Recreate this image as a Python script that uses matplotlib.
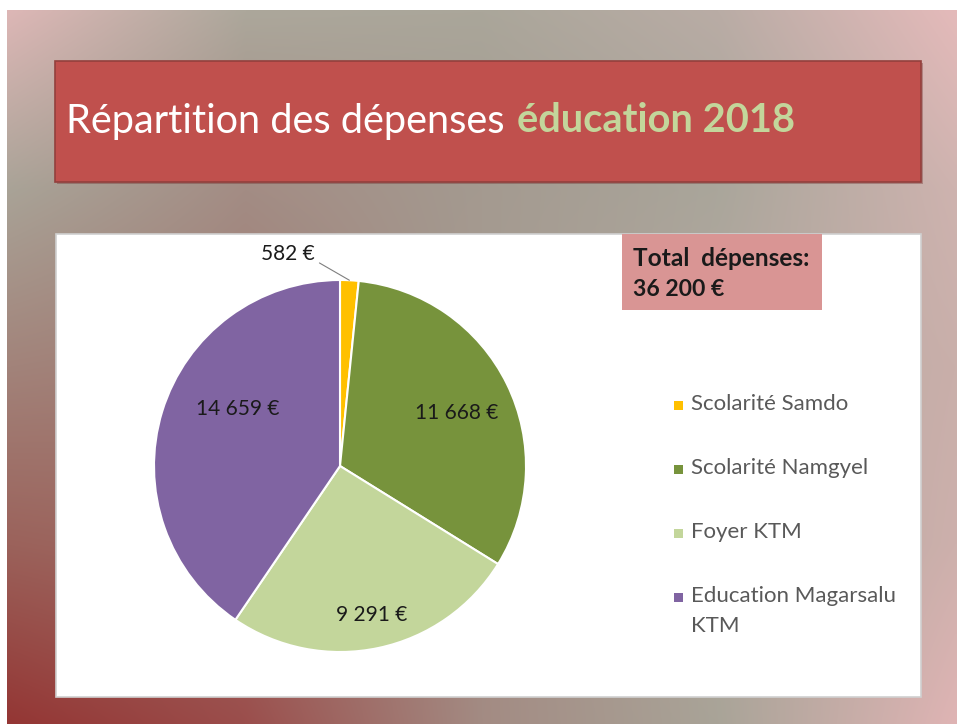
import matplotlib
matplotlib.use('Agg')
import matplotlib.pyplot as plt
import numpy as np
from matplotlib.patches import Rectangle
from matplotlib.colors import to_rgb

# ---- data ----
categories = ['Scolarité Samdo', 'Scolarité Namgyel', 'Foyer KTM', 'Education Magarsalu\nKTM']
values = [582, 11668, 9291, 14659]
value_labels = ['582 €', '11 668 €', '9 291 €', '14 659 €']
colors = ['#FFC000', '#77933C', '#C3D69B', '#8064A2']
title_part1 = 'Répartition des dépenses'
title_part2 = 'éducation 2018'
total_lines = ['Total  dépenses:', '36 200 €']

W, H = 957, 724
fig = plt.figure(figsize=(W / 100, H / 100), dpi=100)
fig.patch.set_facecolor('white')
bg = fig.add_axes([0, 0, 1, 1])
bg.axis('off')

# ---- background gradient (bilinear from a coarse colour grid) ----
grid = [
    ['#DDB7B6', '#ACA79B', '#AAA69A', '#B9ACA5', '#E4BABA'],
    ['#A9A397', '#A38C84', '#A49A90', '#AAA69B', '#CEB3AF'],
    ['#A2837A', '#A07C74', '#A59A90', '#B4A8A0', '#C9AFAA'],
    ['#9B625B', '#9D6A63', '#A28C84', '#AEA69C', '#CDB0AC'],
    ['#943634', '#9B4E4C', '#A38B83', '#A9A498', '#DFB4B4'],
]
g = np.array([[to_rgb(c) for c in row] for row in grid])
ny, nx = 240, 320
ys = np.linspace(0, 4, ny)
xs = np.linspace(0, 4, nx)
y0 = np.clip(np.floor(ys).astype(int), 0, 3); fy = (ys - y0)[:, None, None]
x0 = np.clip(np.floor(xs).astype(int), 0, 3); fx = (xs - x0)[None, :, None]
a = g[y0][:, x0]; b = g[y0][:, x0 + 1]; c = g[y0 + 1][:, x0]; d = g[y0 + 1][:, x0 + 1]
img = (a * (1 - fx) + b * fx) * (1 - fy) + (c * (1 - fx) + d * fx) * fy
bg.imshow(img, extent=(7, W, H, 10), interpolation='bilinear', aspect='auto', zorder=0)
bg.set_xlim(0, W); bg.set_ylim(H, 0)

# ---- title box ----
bg.add_patch(Rectangle((57, 63), 866, 121, fc='#6E2A28', ec='none', alpha=0.35, zorder=1))
bg.add_patch(Rectangle((55, 61), 866, 121, fc='#C0504D', ec='#93403D', lw=1.2, zorder=2))
fig.canvas.draw()
r = fig.canvas.get_renderer()

def fit_text(x, y, s, target_w, **kw):
    t = bg.text(x, y, s, **kw)
    w = t.get_window_extent(r).width
    t.set_fontsize(t.get_fontsize() * target_w / w)
    return t

fit_text(66, 121, title_part1, 439, fontsize=30, color='white', family='Lato',
         ha='left', va='center', zorder=3)
fit_text(517, 121, title_part2, 278, fontsize=30, color='#C3D69B', family='Lato',
         fontweight='bold', ha='left', va='center', zorder=3)

# ---- chart area ----
bg.add_patch(Rectangle((56, 234), 865, 463, fc='white', ec='#D0D0D0', lw=1.2, zorder=2))

# ---- total box ----
bg.add_patch(Rectangle((622, 234), 200, 76, fc='#D99594', ec='none', zorder=3))
fit_text(633, 258, total_lines[0], 177, fontsize=16, fontweight='bold', family='Lato',
         color='#1A1A1A', ha='left', va='center', zorder=4)
fit_text(633, 290, total_lines[1], 91, fontsize=16, fontweight='bold', family='Lato',
         color='#1A1A1A', ha='left', va='center', zorder=4)

# ---- legend ----
leg_y = [405, 469, 533, 597]
for cat, col, yy in zip(categories, colors, leg_y):
    bg.add_patch(Rectangle((674, yy - 4.5), 9, 9, fc=col, ec='none', zorder=4))
    bg.text(691, yy - 11, cat, fontsize=16, family='Lato', color='#595959',
            ha='left', va='top', linespacing=1.6, zorder=4)

# ---- pie ----
cx, cy, rad = 340, 466, 186
pax = fig.add_axes([(cx - rad) / W, (H - cy - rad) / H, 2 * rad / W, 2 * rad / H])
wedges, _ = pax.pie(values, colors=colors, startangle=90, counterclock=False, radius=1,
                    wedgeprops=dict(edgecolor='white', linewidth=1.5))
pax.set_xlim(-1, 1); pax.set_ylim(-1, 1)
pax.set_aspect('auto')
pax.axis('off')

label_r = [1.0, 0.69, 0.82, 0.63]
label_da = [0, -2, 0, -12]
for i, (wdg, lab) in enumerate(zip(wedges, value_labels)):
    mid = np.deg2rad((wdg.theta1 + wdg.theta2) / 2 + label_da[i])
    if i == 0:
        pax.annotate(lab, xy=(np.cos(mid), np.sin(mid)), xytext=(-62, 26),
                     textcoords='offset pixels', ha='center', va='center',
                     fontsize=15, family='Lato', color='#1A1A1A',
                     arrowprops=dict(arrowstyle='-', color='#7F7F7F', lw=0.8,
                                     shrinkA=2, shrinkB=0,
                                     connectionstyle='angle,angleA=0,angleB=150,rad=0'))
    else:
        pax.text(label_r[i] * np.cos(mid), label_r[i] * np.sin(mid), lab,
                 fontsize=15, family='Lato', color='#1A1A1A', ha='center', va='center')

fig.savefig('out.png', dpi=100, facecolor=fig.get_facecolor())
